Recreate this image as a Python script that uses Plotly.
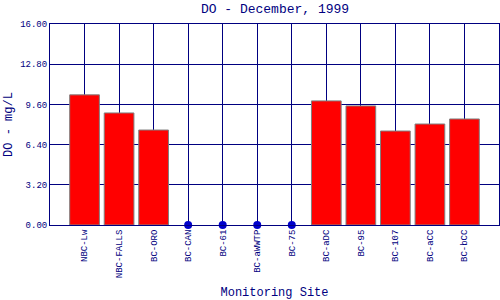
import plotly.graph_objects as go

sites = ["NBC-Lw", "NBC-FALLS", "BC-ORO", "BC-CAN", "BC-61", "BC-aWWTP", "BC-75",
         "BC-aDC", "BC-95", "BC-107", "BC-aCC", "BC-bCC"]
do_values = [10.36, 8.92, 7.56, None, None, None, None, 9.88, 9.48, 7.48, 8.04, 8.44]
y_ticks = [0.0, 3.2, 6.4, 9.6, 12.8, 16.0]

navy = "#000080"
font_family = "Liberation Mono, DejaVu Sans Mono, monospace"

idx = list(range(len(sites)))
bar_x = [i for i, v in zip(idx, do_values) if v is not None]
bar_y = [v for v in do_values if v is not None]
miss_x = [i for i, v in zip(idx, do_values) if v is None]
miss_y = [0 for _ in miss_x]

fig = go.Figure()
fig.add_trace(go.Bar(
    x=bar_x, y=bar_y, width=0.86,
    marker=dict(color="#FF0000", line=dict(color="#808080", width=1)),
    hoverinfo="skip",
))
fig.add_trace(go.Scatter(
    x=miss_x, y=miss_y, mode="markers",
    marker=dict(color="#0000CC", size=8),
    cliponaxis=False, hoverinfo="skip",
))

fig.update_layout(
    width=500, height=300,
    margin=dict(l=50, r=1, t=24, b=75),
    paper_bgcolor="white", plot_bgcolor="white",
    showlegend=False,
    title=dict(text="DO - December, 1999", x=0.55, xanchor="center", y=0.988, yanchor="top",
               font=dict(family=font_family, size=13, color=navy)),
    font=dict(family=font_family, color=navy),
)
fig.update_xaxes(
    range=[-1, 12], tickmode="array", tickvals=idx, ticktext=sites, tickangle=-90,
    showgrid=True, gridcolor=navy, gridwidth=1,
    showline=True, linecolor=navy, linewidth=1, mirror=True,
    ticks="", tickfont=dict(family=font_family, size=9, color=navy),
    title=dict(text="Monitoring Site", font=dict(family=font_family, size=12, color=navy), standoff=11),
    zeroline=False, fixedrange=True,
)
fig.update_yaxes(
    range=[0, 16], tickmode="array", tickvals=y_ticks,
    ticktext=[f"{v:.2f}" for v in y_ticks],
    showgrid=True, gridcolor=navy, gridwidth=1,
    showline=True, linecolor=navy, linewidth=1, mirror=True,
    ticks="", tickfont=dict(family=font_family, size=9, color=navy),
    title=dict(text="DO - mg/L", font=dict(family=font_family, size=12, color=navy), standoff=4),
    zeroline=False, fixedrange=True,
)

fig.write_html("out.html")
